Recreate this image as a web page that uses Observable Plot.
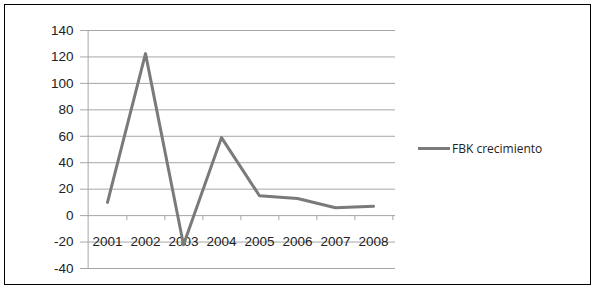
<!DOCTYPE html>
<html>
<head>
<meta charset="utf-8">
<script src="https://cdn.jsdelivr.net/npm/d3@7"></script>
<script src="https://cdn.jsdelivr.net/npm/@observablehq/plot@0.6"></script>
<style>
  html, body { margin: 0; padding: 0; background: #fff; }
  #wrap { position: relative; width: 595px; height: 291px; }
  #border { position: absolute; left: 4px; top: 4px; width: 585px; height: 279px; border: 1.5px solid #000; box-sizing: content-box; pointer-events: none; }
  #chart { position: absolute; left: 0; top: 0; }
  #legend { position: absolute; left: 418px; top: 140px; display: flex; align-items: center; font-family: "Open Sans", "Liberation Sans", sans-serif; font-size: 12px; color: #222; }
  #legend .sw { width: 32px; height: 3px; background: #7a7a7a; margin-right: 2px; }
</style>
</head>
<body>
<div id="wrap">
  <div id="chart"></div>
  <div id="border"></div>
  <div id="legend"><span class="sw"></span><span>FBK crecimiento</span></div>
</div>
<script>
const years = ["2001", "2002", "2003", "2004", "2005", "2006", "2007", "2008"];
const growth = [10, 122.5, -22, 59, 15, 13, 6, 7];
const yTicks = [-40, -20, 0, 20, 40, 60, 80, 100, 120, 140];
const seriesName = "FBK crecimiento";

const data = years.map((y, i) => ({year: y, value: growth[i]}));
const left = 85, right = 395;
const step = (right - left) / years.length;

const chart = Plot.plot({
  width: 595,
  height: 291,
  marginLeft: left,
  marginRight: 595 - right,
  marginTop: 30,
  marginBottom: 23,
  style: {fontFamily: "'Liberation Sans', Arial, sans-serif", fontSize: "13.5px", color: "#222", background: "transparent"},
  x: {type: "point", domain: years, padding: 0.5, axis: null},
  y: {domain: [-40, 140], ticks: yTicks, axis: null},
  marks: [
    Plot.ruleY(yTicks, {stroke: "#a6a6a6", strokeWidth: 1}),
    Plot.ruleX([years[0]], {x: d => d, y1: -40, y2: 140, dx: -step / 2, stroke: "#a6a6a6"}),
    Plot.axisY({ticks: yTicks, label: null, tickSize: 5, tickPadding: 7, stroke: "#a6a6a6", fill: "#222", fontSize: 13.5, tickFormat: d => d < 0 ? "-" + Math.abs(d) : d}),
    Plot.ruleX(years, {x: d => d, y1: 0, y2: -3.8, dx: step / 2, stroke: "#a6a6a6"}),
    Plot.text(years, {x: d => d, y: 0, dy: 26, text: d => d, fill: "#222", fontSize: 13.5}),
    Plot.line(data, {x: "year", y: "value", stroke: "#7a7a7a", strokeWidth: 3, strokeLinejoin: "round"})
  ]
});
document.getElementById("chart").appendChild(chart);
</script>
</body>
</html>
